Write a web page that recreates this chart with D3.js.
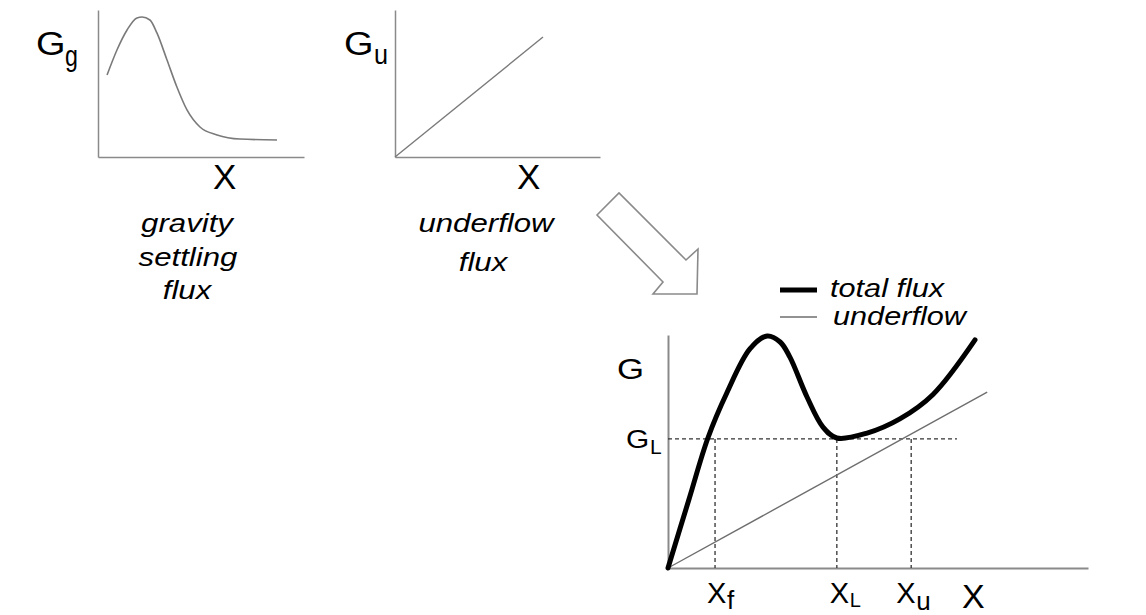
<!DOCTYPE html>
<html>
<head>
<meta charset="utf-8">
<script src="https://cdn.jsdelivr.net/npm/d3@7"></script>
<style>
  body { margin: 0; background: #fff; }
  text { font-family: "Liberation Sans", Arial, sans-serif; fill: #000; }
</style>
</head>
<body>
<svg class="chart" width="1146" height="615"></svg>
<script>
// gravity settling flux curve (Gg vs X)
var gravity_x = [0.44, 0.92, 1.41, 1.89, 2.14, 2.52, 2.86, 3.35, 3.83, 4.32, 4.95, 5.78, 6.89, 8.69];
var gravity_y = [5.58, 7.28, 8.64, 9.46, 9.52, 9.32, 8.44, 6.6, 4.76, 3.2, 2.04, 1.5, 1.22, 1.16];
// underflow flux (Gu vs X)
var under_x = [0, 7.22];
var under_y = [0, 8.16];
// total flux and underflow on the big chart
var total_x = [0, 0.5, 0.95, 1.4, 1.95, 2.36, 2.67, 2.9, 3.31, 3.69, 4.02, 4.74, 5.52, 6.31, 7.31];
var total_y = [0, 2.95, 5.58, 7.51, 9.4, 9.96, 9.7, 9.06, 7.34, 6.05, 5.58, 5.79, 6.4, 7.45, 9.79];
var total_under_x = [0, 7.6];
var total_under_y = [0, 7.55];
// limiting flux and the three marked concentrations
var G_L = 5.54;
var G_L_end = 6.88;
var marks = [
  {name: "f", x: 1.12, dx: -8},
  {name: "L", x: 4.02, dx: -7},
  {name: "u", x: 5.79, dx: -15}
];
var legend_names = ["total flux", "underflow"];

var svg = d3.select(".chart");

function zip(xs, ys) {
  return xs.map(function(d, i) { return [d, ys[i]]; });
}

function draw_axes(x, y, width) {
  svg.append("g")
    .attr("transform", "translate(0," + y.range()[0] + ")")
    .call(d3.axisBottom(x).ticks(0).tickSizeOuter(0))
    .call(function(g) { g.select(".domain").attr("stroke", "#8a8a8a").attr("stroke-width", width); });
  svg.append("g")
    .attr("transform", "translate(" + x.range()[0] + ",0)")
    .call(d3.axisLeft(y).ticks(0).tickSizeOuter(0))
    .call(function(g) { g.select(".domain").attr("stroke", "#8a8a8a").attr("stroke-width", width); });
}

// text with a horizontal stretch, like the original picture
function label(x, y, txt, size, opts) {
  opts = opts || {};
  var t = svg.append("text")
    .attr("transform", "translate(" + x + "," + y + ") scale(" + (opts.sx || 1) + ",1)")
    .attr("font-size", size)
    .attr("text-anchor", opts.anchor || "start")
    .text(txt);
  if (opts.italic) t.attr("font-style", "italic");
  return t;
}

// chart 1
var x1 = d3.scaleLinear().domain([0, 10]).range([98, 304]);
var y1 = d3.scaleLinear().domain([0, 10]).range([157, 10]);
draw_axes(x1, y1, 1.5);
svg.append("path")
  .datum(zip(gravity_x, gravity_y))
  .attr("fill", "none")
  .attr("stroke", "#7a7a7a")
  .attr("stroke-width", 1.6)
  .attr("d", d3.line().x(function(d) { return x1(d[0]); }).y(function(d) { return y1(d[1]); }).curve(d3.curveMonotoneX));

label(36, 55, "G", 33, {sx: 1.15});
label(65, 66, "g", 29, {sx: 0.8});
label(213, 189, "X", 35);
label(187, 232, "gravity", 26, {italic: true, anchor: "middle", sx: 1.2});
label(188, 266, "settling", 26, {italic: true, anchor: "middle", sx: 1.2});
label(187, 299, "flux", 26, {italic: true, anchor: "middle", sx: 1.2});

// chart 2
var x2 = d3.scaleLinear().domain([0, 10]).range([395, 600]);
var y2 = d3.scaleLinear().domain([0, 10]).range([157, 10]);
draw_axes(x2, y2, 1.5);
svg.append("path")
  .datum(zip(under_x, under_y))
  .attr("fill", "none")
  .attr("stroke", "#7a7a7a")
  .attr("stroke-width", 1.4)
  .attr("d", d3.line().x(function(d) { return x2(d[0]); }).y(function(d) { return y2(d[1]); }));

label(344, 55, "G", 33, {sx: 1.15});
label(374, 64, "u", 28, {sx: 0.9});
label(517, 189, "X", 35);
label(486, 232, "underflow", 26, {italic: true, anchor: "middle", sx: 1.2});
label(483, 271, "flux", 26, {italic: true, anchor: "middle", sx: 1.2});

// arrow between the charts
svg.append("polygon")
  .attr("points", "597,215 619,193 686,260 698,249 697,294 653,294 663,282")
  .attr("fill", "#fff")
  .attr("stroke", "#8a8a8a")
  .attr("stroke-width", 1.6);

// chart 3
var x3 = d3.scaleLinear().domain([0, 10]).range([668, 1088]);
var y3 = d3.scaleLinear().domain([0, 10]).range([568, 335]);
draw_axes(x3, y3, 2);

var line3 = d3.line().x(function(d) { return x3(d[0]); }).y(function(d) { return y3(d[1]); });

// dashed guides
svg.append("line")
  .attr("x1", x3(0)).attr("x2", x3(G_L_end))
  .attr("y1", y3(G_L)).attr("y2", y3(G_L))
  .attr("stroke", "#333").attr("stroke-width", 1.3).attr("stroke-dasharray", "4,3");
svg.selectAll(".vguide")
  .data(marks)
  .enter().append("line")
  .attr("class", "vguide")
  .attr("x1", function(d) { return x3(d.x); }).attr("x2", function(d) { return x3(d.x); })
  .attr("y1", y3(G_L)).attr("y2", y3(0))
  .attr("stroke", "#333").attr("stroke-width", 1.3).attr("stroke-dasharray", "4,3");

svg.append("path")
  .datum(zip(total_under_x, total_under_y))
  .attr("fill", "none")
  .attr("stroke", "#6e6e6e")
  .attr("stroke-width", 1.4)
  .attr("d", line3);

svg.append("path")
  .datum(zip(total_x, total_y))
  .attr("fill", "none")
  .attr("stroke", "#000")
  .attr("stroke-width", 5)
  .attr("stroke-linecap", "round")
  .attr("d", d3.line().x(function(d) { return x3(d[0]); }).y(function(d) { return y3(d[1]); }).curve(d3.curveCatmullRom));

label(617, 379, "G", 29, {sx: 1.2});
label(626, 448, "G", 26, {sx: 1.15});
label(650, 454, "L", 21);

var sub_size = {f: 26, L: 20, u: 26};
var sub_dy = {f: 609, L: 607, u: 610};
marks.forEach(function(d) {
  var lx = x3(d.x) + d.dx;
  label(lx, 603, "X", 29);
  label(lx + 20, sub_dy[d.name], d.name, sub_size[d.name]);
});
label(962, 608, "X", 34);

// legend
svg.append("line").attr("x1", 780).attr("x2", 817).attr("y1", 290).attr("y2", 290)
  .attr("stroke", "#000").attr("stroke-width", 5);
svg.append("line").attr("x1", 780).attr("x2", 817).attr("y1", 317).attr("y2", 317)
  .attr("stroke", "#6e6e6e").attr("stroke-width", 1.4);
label(830, 297, legend_names[0], 26, {italic: true, sx: 1.18});
label(833, 325, legend_names[1], 26, {italic: true, sx: 1.18});
</script>
</body>
</html>
